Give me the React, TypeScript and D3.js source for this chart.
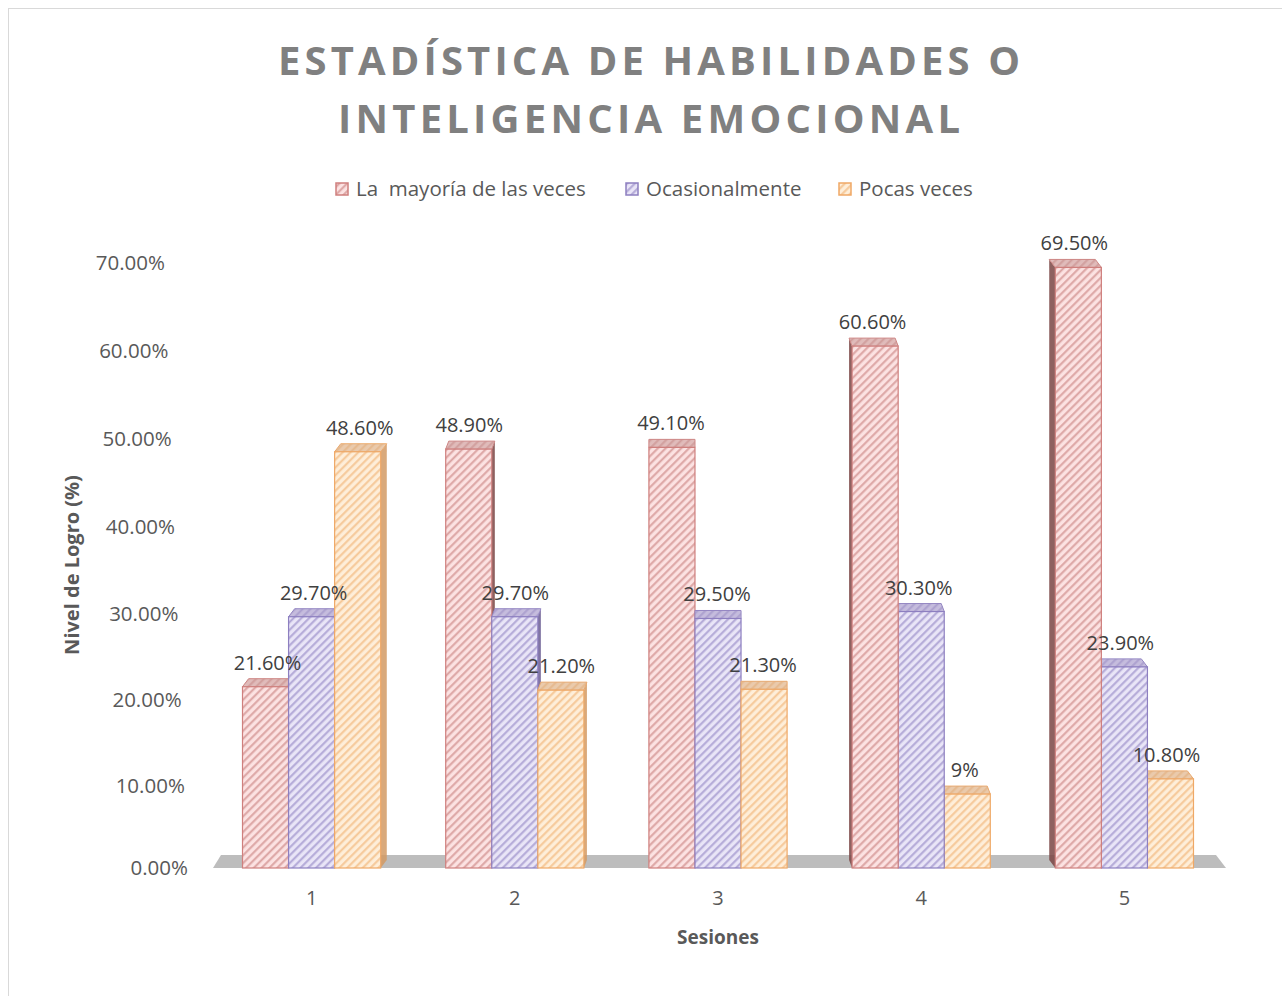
import React from "react";
import * as d3 from "d3";

const W = 1282;
const H = 996;

const categories = ["1", "2", "3", "4", "5"];
const seriesNames = ["La  mayoría de las veces", "Ocasionalmente", "Pocas veces"];
const mayoria = [0.216, 0.489, 0.491, 0.606, 0.695];
const ocasional = [0.297, 0.297, 0.295, 0.303, 0.239];
const pocas = [0.486, 0.212, 0.213, 0.09, 0.108];
const mayoriaLabels = ["21.60%", "48.90%", "49.10%", "60.60%", "69.50%"];
const ocasionalLabels = ["29.70%", "29.70%", "29.50%", "30.30%", "23.90%"];
const pocasLabels = ["48.60%", "21.20%", "21.30%", "9%", "10.80%"];
const yTicks = [0, 0.1, 0.2, 0.3, 0.4, 0.5, 0.6, 0.7];

const seriesValues = [mayoria, ocasional, pocas];
const seriesLabels = [mayoriaLabels, ocasionalLabels, pocasLabels];

// fill / stripe / outline / side per series
const STYLES = [
  { bg: "#fce2e2", stripe: "#dba3a2", line: "#cf7f7d", top: "#c99a99", side: "#7a4544" },
  { bg: "#e9e5f7", stripe: "#b1a7d6", line: "#8d7fc0", top: "#a79bc9", side: "#6a5c92" },
  { bg: "#feeed9", stripe: "#f5c796", line: "#efa866", top: "#d9ad86", side: "#d29a64" },
];

const TEXT = "#595959";
const FONT = "'Open Sans', sans-serif";

export default function App() {
  const x0 = d3.scaleBand<string>().domain(categories).range([210, 1226]).paddingInner(0.32).paddingOuter(0.16);
  const x1 = d3.scaleBand<number>().domain([0, 1, 2]).range([0, x0.bandwidth()]);
  // slight perspective stretch on the value axis
  const y = d3.scalePow().exponent(1.025).domain([0, 0.7]).range([868, 263]);
  const centerX = (210 + 1226) / 2;
  const depthY = -8;

  const bars: any[] = [];
  categories.forEach((c, ci) => {
    const gx = (x0(c) as number) + x0.bandwidth() / 2;
    const dx = (centerX - gx) * 0.015;
    const group = [0, 1, 2].map((si) => ({
      ci,
      si,
      x: (x0(c) as number) + (x1(si) as number),
      w: x1.bandwidth(),
      v: seriesValues[si][ci],
      label: seriesLabels[si][ci],
      dx,
    }));
    if (dx < 0) group.reverse();
    bars.push(...group);
  });

  const base = y(0);

  return (
    <svg width={W} height={H} style={{ position: "absolute", left: 0, top: 0, background: "#fff" }} fontFamily={FONT}>
      <defs>
        {STYLES.map((s, i) => (
          <pattern key={i} id={`hatch${i}`} patternUnits="userSpaceOnUse" width={5.5} height={5.5} patternTransform="rotate(45)">
            <rect width={5.5} height={5.5} fill={s.bg} />
            <line x1={1.2} y1={0} x2={1.2} y2={5.5} stroke={s.stripe} strokeWidth={2} />
          </pattern>
        ))}
      </defs>
      <rect x={8.5} y={8.5} width={1290} height={1000} fill="#fff" stroke="#d9d9d9" />

      {/* title */}
      <text x={649} y={75} textAnchor="middle" fontSize={40} fontWeight={700} fill="#808080" textLength={742} lengthAdjust="spacing">
        ESTADÍSTICA DE HABILIDADES O
      </text>
      <text x={649} y={133} textAnchor="middle" fontSize={40} fontWeight={700} fill="#808080" textLength={622} lengthAdjust="spacing">
        INTELIGENCIA EMOCIONAL
      </text>

      {/* legend */}
      {seriesNames.map((n, i) => {
        const lx = [336, 626, 839][i];
        return (
          <g key={n}>
            <rect x={lx} y={183} width={12} height={12} fill={`url(#hatch${i})`} stroke={STYLES[i].line} strokeWidth={1.5} />
            <text x={lx + 20} y={196} fontSize={20.5} fill={TEXT} style={{ whiteSpace: "pre" }}>
              {n}
            </text>
          </g>
        );
      })}

      {/* y ticks */}
      {yTicks.map((t) => {
        const ty = y(t);
        const rx = 188 - ((base - ty) * 23) / 605;
        return (
          <text key={t} x={rx} y={ty + 7} textAnchor="end" fontSize={20.5} fill={TEXT}>
            {d3.format(".2%")(t)}
          </text>
        );
      })}
      <text transform="translate(79,565) rotate(-90)" textAnchor="middle" fontSize={20} fontWeight={700} fill={TEXT}>
        Nivel de Logro (%)
      </text>

      {/* floor */}
      <polygon points={`213,${base} 1226,${base} 1216,${base - 13} 221,${base - 13}`} fill="#bdbdbd" />

      {/* bars */}
      {bars.map((b) => {
        const s = STYLES[b.si];
        const top = y(b.v);
        const x = b.x;
        const w = b.w;
        const dx = b.dx;
        const sideX = dx >= 0 ? x + w : x;
        const topPts = `${x},${top} ${x + w},${top} ${x + w + dx},${top + depthY} ${x + dx},${top + depthY}`;
        const sidePts = `${sideX},${base} ${sideX},${top} ${sideX + dx},${top + depthY} ${sideX + dx},${base + depthY}`;
        return (
          <g key={`${b.ci}-${b.si}`}>
            <polygon points={sidePts} fill={s.side} opacity={0.85} />
            <polygon points={topPts} fill={`url(#hatch${b.si})`} stroke={s.line} strokeWidth={1} />
            <polygon points={topPts} fill={s.top} opacity={0.55} />
            <rect x={x} y={top} width={w} height={base - top} fill={`url(#hatch${b.si})`} stroke={s.line} strokeWidth={1.2} />
          </g>
        );
      })}

      {/* data labels */}
      {bars.map((b) => (
        <text key={`l${b.ci}-${b.si}`} x={b.x + b.w / 2 + b.dx / 2 - 1} y={y(b.v) - 17} textAnchor="middle" fontSize={20} fill="#404040">
          {b.label}
        </text>
      ))}

      {/* category axis */}
      {categories.map((c) => (
        <text key={c} x={(x0(c) as number) + x0.bandwidth() / 2} y={905} textAnchor="middle" fontSize={20} fill={TEXT}>
          {c}
        </text>
      ))}
      <text x={718} y={944} textAnchor="middle" fontSize={19} fontWeight={700} fill={TEXT}>
        Sesiones
      </text>
    </svg>
  );
}
